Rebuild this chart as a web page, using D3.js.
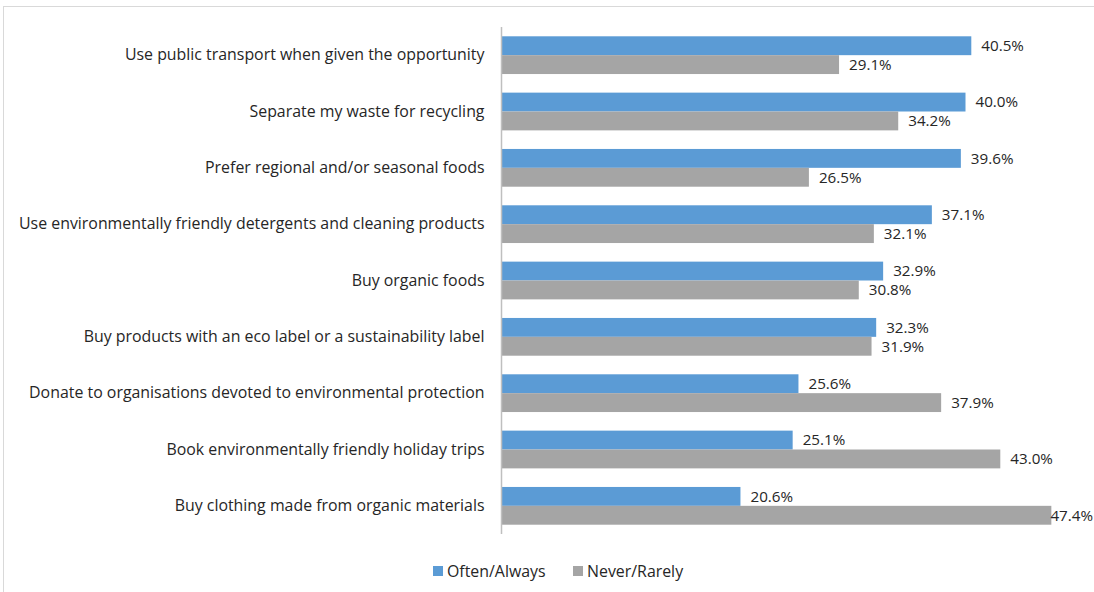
<!DOCTYPE html>
<html>
<head>
<meta charset="utf-8">
<script src="https://cdn.jsdelivr.net/npm/d3@7"></script>
<style>
  html, body { margin: 0; padding: 0; background: #fff; }
  svg text { font-family: "Open Sans", "Noto Sans", sans-serif; fill: #262626; }
</style>
</head>
<body>
<svg id="chart" width="1094" height="592"></svg>
<script>
const categories = [
  "Use public transport when given the opportunity",
  "Separate my waste for recycling",
  "Prefer regional and/or seasonal foods",
  "Use environmentally friendly detergents and cleaning products",
  "Buy organic foods",
  "Buy products with an eco label or a sustainability label",
  "Donate to organisations devoted to environmental protection",
  "Book environmentally friendly holiday trips",
  "Buy clothing made from organic materials"
];
const oftenAlways = [40.5, 40.0, 39.6, 37.1, 32.9, 32.3, 25.6, 25.1, 20.6];
const neverRarely = [29.1, 34.2, 26.5, 32.1, 30.8, 31.9, 37.9, 43.0, 47.4];
const seriesNames = ["Often/Always", "Never/Rarely"];
const seriesColors = ["#5B9BD5", "#A5A5A5"];

const W = 1094;
const FONT = 15.9;
const VALUE_FONT = 15.2;
const svg = d3.select("#chart");

// outer chart frame
svg.append("rect")
  .attr("x", 3.5).attr("y", 6.5)
  .attr("width", 1100).attr("height", 600)
  .attr("fill", "none").attr("stroke", "#D9D9D9").attr("stroke-width", 1);

const plot = { left: 501.5, top: 27, bottom: 534 };

const x = d3.scaleLinear().domain([0, 10]).range([plot.left, plot.left + 116]);
const y = d3.scaleBand().domain(categories).range([plot.top, plot.bottom]).paddingInner(0.33).paddingOuter(0.165);
const ySeries = d3.scaleBand().domain(seriesNames).range([0, y.bandwidth()]);

const rows = categories.map((c, i) => ({ cat: c, vals: [oftenAlways[i], neverRarely[i]] }));

const g = svg.append("g");
const row = g.selectAll("g.row").data(rows).join("g")
  .attr("class", "row")
  .attr("transform", d => `translate(0,${y(d.cat)})`);

row.selectAll("rect").data(d => d.vals.map((v, k) => ({ v, k }))).join("rect")
  .attr("x", x(0))
  .attr("y", d => ySeries(seriesNames[d.k]))
  .attr("width", d => x(d.v) - x(0))
  .attr("height", ySeries.bandwidth())
  .attr("fill", d => seriesColors[d.k]);

// value labels; a label that would run past the frame is pulled back inside
row.selectAll("text.val").data(d => d.vals.map((v, k) => ({ v, k }))).join("text")
  .attr("class", "val")
  .attr("y", d => ySeries(seriesNames[d.k]) + ySeries.bandwidth() / 2)
  .attr("dy", "0.35em")
  .attr("font-size", VALUE_FONT)
  .text(d => d.v.toFixed(1) + "%")
  .attr("x", function (d) {
    const w = this.getComputedTextLength();
    return Math.min(x(d.v) + 10, W - 1 - w);
  });

// category axis
const yAxis = d3.axisLeft(y).tickSize(0).tickPadding(17);
const ax = svg.append("g").attr("transform", `translate(${plot.left},0)`).call(yAxis);
ax.select(".domain").attr("stroke", "#BFBFBF").attr("stroke-width", 1.5)
  .attr("d", `M0,${plot.top}V${plot.bottom}`);
ax.selectAll("text").attr("font-size", FONT).attr("fill", "#262626")
  .style("font-family", '"Open Sans", "Noto Sans", sans-serif');

// legend
const legend = svg.append("g").attr("transform", "translate(433,571)");
const legX = [0, 140];
seriesNames.forEach((name, k) => {
  const lg = legend.append("g").attr("transform", `translate(${legX[k]},0)`);
  lg.append("rect").attr("x", 0).attr("y", -5).attr("width", 10).attr("height", 10).attr("fill", seriesColors[k]);
  lg.append("text").attr("x", 14).attr("y", 0).attr("dy", "0.35em").attr("font-size", FONT).text(name);
});
</script>
</body>
</html>
